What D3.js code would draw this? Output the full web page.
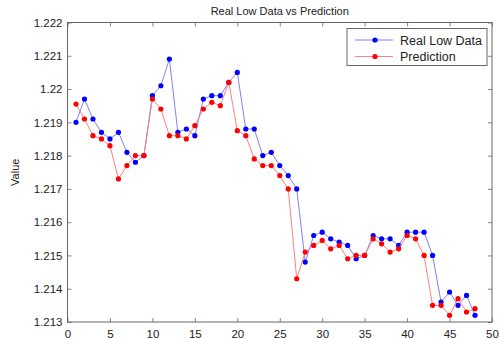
<!DOCTYPE html>
<html>
<head>
<meta charset="utf-8">
<script src="https://cdn.jsdelivr.net/npm/d3@7"></script>
<style>
  body { margin: 0; background: #fff; }
  svg { display: block; font-family: 'Liberation Sans', Arial, sans-serif; }
</style>
</head>
<body>
<svg id="chart" width="499" height="339"></svg>
<script>
const title = 'Real Low Data vs Prediction';
const seriesNames = ['Real Low Data', 'Prediction'];
const xTicks = [0, 5, 10, 15, 20, 25, 30, 35, 40, 45, 50];
const yTicks = [1.213, 1.214, 1.215, 1.216, 1.217, 1.218, 1.219, 1.22, 1.221, 1.222];

const realLow = [
  1.2190, 1.2197, 1.2191, 1.2187, 1.2185, 1.2187, 1.2181, 1.2178, 1.2180, 1.2198,
  1.2201, 1.2209, 1.2187, 1.2188, 1.2186, 1.2197, 1.2198, 1.2198, 1.2202, 1.2205,
  1.2188, 1.2188, 1.2180, 1.2181, 1.2177, 1.2174, 1.2170, 1.2148, 1.2156, 1.2157,
  1.2155, 1.2154, 1.2153, 1.2149, 1.2150, 1.2156, 1.2155, 1.2155, 1.2153, 1.2157,
  1.2157, 1.2157, 1.2150, 1.2136, 1.2139, 1.2135, 1.2138, 1.2132
];
const prediction = [
  1.21955, 1.2191, 1.2186, 1.2185, 1.2183, 1.2173, 1.2177, 1.2180, 1.2180, 1.2197,
  1.2194, 1.2186, 1.2186, 1.2185, 1.2189, 1.2194, 1.2196, 1.2195, 1.2202, 1.21875,
  1.2186, 1.2179, 1.2177, 1.2177, 1.2174, 1.2170, 1.2143, 1.2151, 1.2153, 1.21545,
  1.2152, 1.2153, 1.2149, 1.2150, 1.2150, 1.2155, 1.21535, 1.2151, 1.2152, 1.2156,
  1.2155, 1.2150, 1.2135, 1.2135, 1.2132, 1.2137, 1.2133, 1.2134
];

const svg = d3.select('#chart');
const margin = { left: 67.5, right: 7, top: 22.5, bottom: 17 };
const width = 499, height = 339;
const colors = ['#0000ff', '#ff0000'];
const lineColors = ['#8080ff', '#ff8080'];

const x = d3.scaleLinear().domain([0, 50]).range([margin.left, width - margin.right]);
const y = d3.scaleLinear().domain([1.213, 1.222]).range([height - margin.bottom, margin.top]);

const axisColor = '#666';
const tickLen = 4;

// ticks (inside, all four sides)
const axBottom = svg.append('g')
  .attr('transform', `translate(0, ${y(1.213)})`)
  .call(d3.axisBottom(x).tickValues(xTicks).tickSize(-tickLen).tickPadding(8).tickFormat(d3.format('d')));
const axTop = svg.append('g')
  .attr('transform', `translate(0, ${y(1.222)})`)
  .call(d3.axisTop(x).tickValues(xTicks).tickSize(-tickLen).tickFormat(''));
const axLeft = svg.append('g')
  .attr('transform', `translate(${x(0)}, 0)`)
  .call(d3.axisLeft(y).tickValues(yTicks).tickSize(-tickLen).tickPadding(5).tickFormat(d => String(+d.toFixed(3))));
const axRight = svg.append('g')
  .attr('transform', `translate(${x(50)}, 0)`)
  .call(d3.axisRight(y).tickValues(yTicks).tickSize(-tickLen).tickFormat(''));

[axBottom, axTop, axLeft, axRight].forEach(g => {
  g.select('.domain').remove();
  g.selectAll('line').attr('stroke', axisColor).attr('stroke-width', 0.8);
  g.selectAll('text').attr('fill', '#222').style('font-size', '11.5px');
});

svg.append('rect')
  .attr('x', x(0)).attr('y', y(1.222))
  .attr('width', x(50) - x(0)).attr('height', y(1.213) - y(1.222))
  .attr('fill', 'none').attr('stroke', axisColor).attr('stroke-width', 1);

// title and axis label
svg.append('text')
  .attr('x', (x(0) + x(50)) / 2).attr('y', 14.5)
  .attr('text-anchor', 'middle')
  .style('font-size', '11px')
  .attr('fill', '#222')
  .text(title);

svg.append('text')
  .attr('transform', `translate(19, ${(y(1.213) + y(1.222)) / 2}) rotate(-90)`)
  .attr('text-anchor', 'middle')
  .style('font-size', '11px')
  .attr('fill', '#222')
  .text('Value');

const line = d3.line()
  .x((d, i) => x(i + 1))
  .y(d => y(d));

[realLow, prediction].forEach((s, k) => {
  const g = svg.append('g');
  g.append('path')
    .attr('d', line(s))
    .attr('fill', 'none')
    .attr('stroke', lineColors[k])
    .attr('stroke-width', 1);
  g.selectAll('circle')
    .data(s)
    .enter()
    .append('circle')
    .attr('cx', (d, i) => x(i + 1))
    .attr('cy', d => y(d))
    .attr('r', 2.6)
    .attr('fill', colors[k]);
});

// legend
const legend = svg.append('g').attr('transform', 'translate(347, 28.5)');
legend.append('rect')
  .attr('width', 140).attr('height', 37)
  .attr('fill', '#fff').attr('stroke', axisColor).attr('stroke-width', 1);

seriesNames.forEach((name, k) => {
  const ly = 11.5 + k * 16.5;
  legend.append('line')
    .attr('x1', 8).attr('x2', 46).attr('y1', ly).attr('y2', ly)
    .attr('stroke', lineColors[k]).attr('stroke-width', 1);
  legend.append('circle')
    .attr('cx', 28).attr('cy', ly).attr('r', 2.6).attr('fill', colors[k]);
  legend.append('text')
    .attr('x', 53).attr('y', ly + 4.5)
    .style('font-size', '12.5px')
    .attr('fill', '#222')
    .text(name);
});
</script>
</body>
</html>
